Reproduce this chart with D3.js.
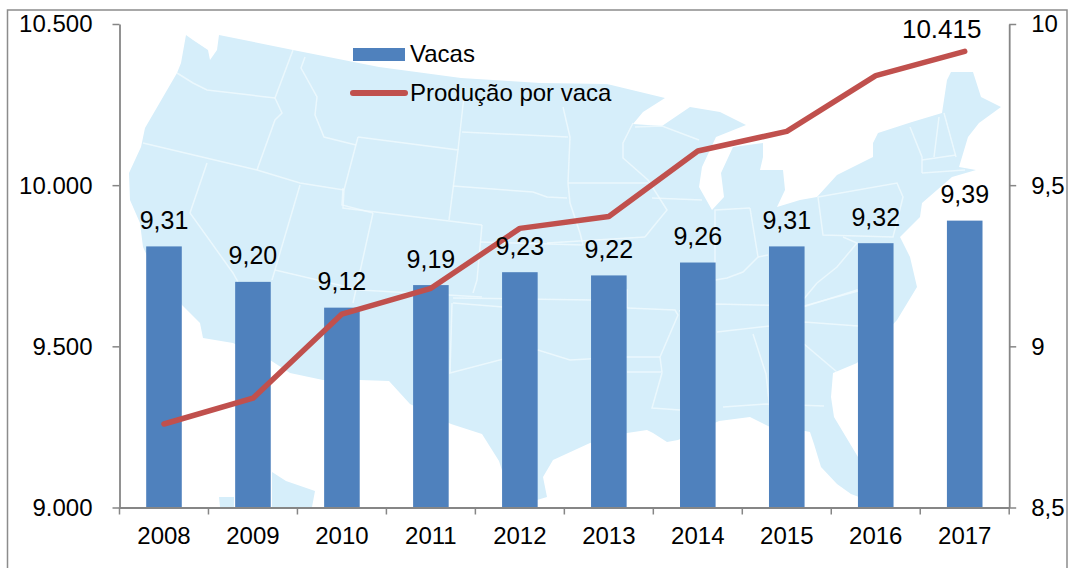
<!DOCTYPE html>
<html>
<head>
<meta charset="utf-8">
<script src="https://cdn.jsdelivr.net/npm/d3@7"></script>
<style>
html,body{margin:0;padding:0;background:#fff;overflow:hidden}
svg{display:block}
text{font-family:"Liberation Sans",Arial,sans-serif;fill:#000}
</style>
</head>
<body>
<svg id="c" width="1069" height="568"></svg>
<script>
// Data
const years = ["2008","2009","2010","2011","2012","2013","2014","2015","2016","2017"];
const cows = [9.31,9.20,9.12,9.19,9.23,9.22,9.26,9.31,9.32,9.39];
const milkPerCow = [9259,9339,9600,9680,9866,9903,10106,10167,10340,10415];
const leftTicks = [9000,9500,10000,10500];
const rightTicks = [8.5,9,9.5,10];
const seriesNames = ["Vacas","Produção por vaca"];

// Decorative background picture of the reference (US map), traced in page pixels
const mapOutline = [[186,35],[193,40],[208,50],[210,60],[217,50],[219,35],[293,50],[379,67],[461,78],[540,83],[607,84],[665,98],
[643,112],[633,124],[662,126],[690,107],[720,112],[746,125],[716,137],[702,167],[699,187],[712,210],[724,197],[721,173],[733,147],[763,143],
[763,157],[760,170],[770,170],[783,170],[785,190],[777,207],[800,200],[817,197],[837,175],[873,157],[873,143],[878,133],[912,122],[942,113],
[947,80],[951,72],[973,72],[981,97],[1001,107],[979,123],[968,137],[959,167],[976,170],[952,177],[922,203],[920,217],[900,237],[910,257],
[917,287],[897,320],[857,363],[833,373],[831,397],[834,417],[858,457],[859,497],[851,494],[837,484],[821,467],[814,444],[810,432],[805,431],
[770,427],[750,417],[719,421],[678,440],[667,442],[653,433],[647,430],[627,433],[590,443],[553,460],[543,477],[547,497],[537,500],[522,507],[510,495],
[499,461],[482,434],[451,424],[410,404],[389,381],[360,380],[323,380],[290,373],[270,360],[233,343],[203,338],[200,323],[182,305],[150,262],[143,247],
[140,223],[130,200],[129,173],[141,147],[145,128],[177,73],[181,63]];
const mapIslands = [
 [[272,472],[286,481],[315,491],[312,507],[272,507]],
 [[219,497],[234,497],[234,507],[220,507]]
];
const mapBorders = [
 [[177,73],[193,83],[207,90],[275,98]],
 [[293,50],[275,98],[282,113],[275,120],[257,170]],
 [[305,57],[301,68],[317,97],[315,115],[324,137],[356,145]],
 [[143,143],[257,170],[300,183],[344,190]],
 [[358,137],[344,190],[343,208],[482,225]],
 [[358,137],[458,150],[449,220]],
 [[465,87],[458,150]],
 [[462,132],[568,137]],
 [[453,186],[533,192],[547,197],[567,198]],
 [[207,163],[190,213],[233,273],[238,282]],
 [[300,185],[272,280]],
 [[373,213],[353,303]],
 [[275,270],[360,290],[413,293],[482,297]],
 [[343,188],[342,205],[373,213]],
 [[482,225],[477,280],[473,293]],
 [[563,107],[570,137],[568,183],[570,203],[580,233],[583,245]],
 [[568,183],[648,183]],
 [[633,123],[623,143],[623,158],[648,180],[667,210],[653,227],[645,237]],
 [[547,243],[645,237]],
 [[480,242],[583,245]],
 [[453,298],[593,300],[627,290],[627,308]],
 [[453,303],[503,307],[537,297]],
 [[452,303],[450,373],[538,350],[570,360],[623,357],[660,357]],
 [[627,308],[675,310],[678,315],[660,357],[662,372],[627,372]],
 [[662,373],[652,408],[680,410]],
 [[753,334],[766,374],[770,411]],
 [[717,332],[804,322],[858,326]],
 [[804,344],[837,372]],
 [[723,407],[766,404],[824,406]],
 [[679,311],[716,304],[804,306],[858,291]],
 [[750,208],[715,210],[715,280]],
 [[750,208],[758,257],[743,272],[727,278],[715,280]],
 [[758,257],[768,255]],
 [[818,197],[823,235],[893,237],[903,197],[897,183],[818,197]],
 [[803,307],[857,290],[893,287]],
 [[817,283],[837,267],[857,243],[843,237]],
 [[803,300],[817,283]],
 [[910,127],[922,157],[922,173]],
 [[939,117],[934,157]],
 [[944,113],[956,157]],
 [[922,160],[956,155]],
 [[922,173],[965,170]],
 [[652,198],[702,200]],
 [[635,127],[662,126],[699,140]]
];

const width = 1069, height = 568;
const plot = {left:119.5, right:1009.2, top:24, bottom:507.5};

const svg = d3.select("#c");
const localePt = d3.formatLocale({decimal:",", thousands:".", grouping:[3], currency:["",""]});

const x = d3.scaleBand().domain(years).range([plot.left, plot.right]).padding(0);
const barInner = 0.4;
const yLeft = d3.scaleLinear().domain([9000,10500]).range([plot.bottom, plot.top]);
const yRight = d3.scaleLinear().domain([8.5,10]).range([plot.bottom, plot.top]);

// frame
svg.append("path")
  .attr("d", d3.line()([[7.5,568],[7.5,10],[1067,10],[1067,568]]))
  .attr("fill","none").attr("stroke","#8c8c8c").attr("stroke-width",1.5);

// background map (soft edges, as in the photographed original)
const defs = svg.append("defs");
defs.append("filter").attr("id","soft").append("feGaussianBlur").attr("stdDeviation",0.7);
const mapG = svg.append("g").attr("filter","url(#soft)");
const lineGen = d3.line();
mapG.append("path").attr("d", lineGen(mapOutline)+"Z").attr("fill","#d6eefa");
mapIslands.forEach(p => mapG.append("path").attr("d", lineGen(p)+"Z").attr("fill","#d6eefa"));
mapG.selectAll("path.b").data(mapBorders).join("path").attr("class","b")
  .attr("d", lineGen).attr("fill","none").attr("stroke","#f0fafe").attr("stroke-width",1.5).attr("stroke-opacity",0.8);

// bars
const cx = d => x(d) + x.bandwidth()/2;
const barW = x.bandwidth()*barInner;
svg.append("g").selectAll("rect").data(years).join("rect")
  .attr("x", d => cx(d)-barW/2)
  .attr("width", barW)
  .attr("y", (d,i) => yRight(cows[i]))
  .attr("height", (d,i) => plot.bottom - yRight(cows[i]))
  .attr("fill","#4f81bd");

// axes
const axisColor = "#868686";
function styleAxis(g){
  g.selectAll("path.domain").attr("stroke",axisColor).attr("stroke-width",1.8);
  g.selectAll(".tick line").attr("stroke",axisColor).attr("stroke-width",1.5);
  g.selectAll("text").attr("font-size",24).attr("font-family",'"Liberation Sans",Arial,sans-serif').attr("fill","#000");
}
const gl = svg.append("g").attr("transform",`translate(${plot.left},0)`)
  .call(d3.axisLeft(yLeft).tickValues(leftTicks).tickSize(7).tickSizeOuter(0).tickPadding(20).tickFormat(localePt.format(",d")));
styleAxis(gl);
gl.selectAll("text").attr("dy","0.33em");

const gr = svg.append("g").attr("transform",`translate(${plot.right},0)`)
  .call(d3.axisRight(yRight).tickValues(rightTicks).tickSize(7).tickSizeOuter(0).tickPadding(15).tickFormat(localePt.format("~g")));
styleAxis(gr);
gr.selectAll("text").attr("dy","0.33em");

const gb = svg.append("g").attr("transform",`translate(0,${plot.bottom})`)
  .call(d3.axisBottom(x).tickSize(0).tickSizeOuter(0).tickPadding(19.5));
styleAxis(gb);
gb.selectAll("text").attr("dy","0.71em");
gb.selectAll("line.edge").data(years.map(d=>x(d)).concat([plot.right])).join("line").attr("class","edge")
  .attr("x1",d=>d).attr("x2",d=>d).attr("y1",0).attr("y2",7)
  .attr("stroke",axisColor).attr("stroke-width",1.5);

// line
svg.append("path")
  .datum(years)
  .attr("d", d3.line().x(d=>cx(d)).y((d,i)=>yLeft(milkPerCow[i])))
  .attr("fill","none").attr("stroke","#c0504d").attr("stroke-width",5.5)
  .attr("stroke-linejoin","round").attr("stroke-linecap","round");

// bar labels
const fmtCows = localePt.format(".2f");
svg.append("g").selectAll("text").data(years).join("text")
  .attr("x", d=>cx(d)).attr("y",(d,i)=>yRight(cows[i])-17.5)
  .attr("text-anchor","middle").attr("font-size",25)
  .text((d,i)=>fmtCows(cows[i]));

// last line label
svg.append("text")
  .attr("x", cx(years[9])-23).attr("y", yLeft(milkPerCow[9])-13)
  .attr("text-anchor","middle").attr("font-size",26)
  .text(localePt.format(",d")(milkPerCow[9]));

// legend
const legend = svg.append("g");
legend.append("rect").attr("x",353).attr("y",48).attr("width",52).attr("height",13).attr("fill","#4f81bd");
legend.append("text").attr("x",410).attr("y",62).attr("font-size",24).text(seriesNames[0]);
legend.append("line").attr("x1",353).attr("x2",405).attr("y1",93).attr("y2",93)
  .attr("stroke","#c0504d").attr("stroke-width",6).attr("stroke-linecap","round");
legend.append("text").attr("x",410).attr("y",101).attr("font-size",24).text(seriesNames[1]);
</script>
</body>
</html>
